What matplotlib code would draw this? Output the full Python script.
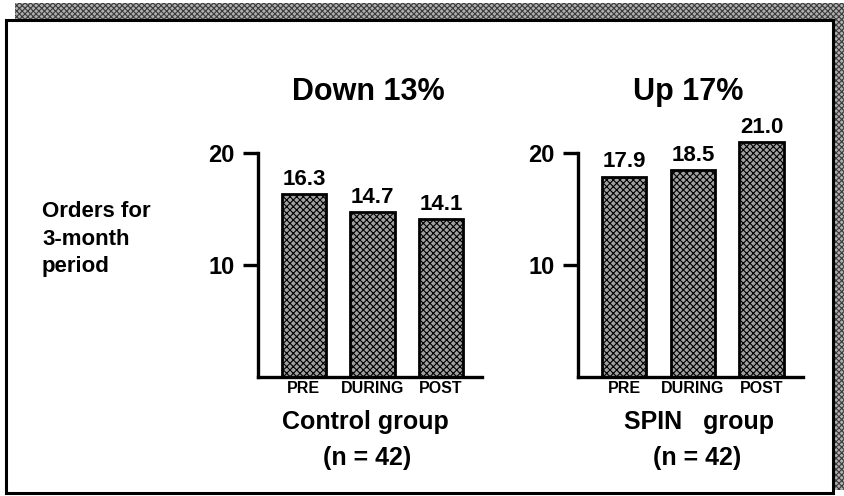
import matplotlib.pyplot as plt
from matplotlib.patches import Rectangle

plt.rcParams['font.family'] = ['Liberation Sans', 'DejaVu Sans']
plt.rcParams['font.weight'] = 'bold'
plt.rcParams['hatch.linewidth'] = 0.8

# ---------------- Data ---------------- #
periods = ["PRE", "DURING", "POST"]
control_orders = [16.3, 14.7, 14.1]
spin_orders = [17.9, 18.5, 21.0]
titles = ["Down 13%", "Up 17%"]
group_names = ["Control group", "SPIN   group"]
group_sizes = ["(n = 42)", "(n = 42)"]
y_ticks = [10, 20]

W, H = 844, 496
fig = plt.figure(figsize=(W / 100, H / 100), dpi=100)
fig.patch.set_facecolor("white")

def px(x, y):
    # pixel coords (origin top-left) -> figure fraction
    return x / W, 1 - y / H

# ---------------- Frame with stippled drop shadow ---------------- #
shade = dict(facecolor="#b0b0b0", edgecolor="#3a3a3a", hatch="xxxxxx",
             linewidth=0, transform=fig.transFigure, zorder=0)
fig.patches.append(Rectangle(px(15, 20), (W - 15) / W, 17 / H, **shade))
fig.patches.append(Rectangle(px(834, 490), 10 / W, 487 / H, **shade))
fig.patches.append(Rectangle(px(6, 493), 827 / W, 473 / H, facecolor="white",
                             edgecolor="black", linewidth=2.2,
                             transform=fig.transFigure, zorder=1))

# ---------------- Bar panels ---------------- #
def draw_panel(left_px, right_px, values, title, name, size, name_dx, size_dx):
    l, b = px(left_px, 377)
    ax = fig.add_axes([l, b, (right_px - left_px) / W, 224 / H], zorder=2)
    ax.patch.set_alpha(0)
    x = range(len(values))
    ax.bar(x, values, width=0.65, facecolor="#a0a0a0", edgecolor="black",
           hatch="xxxxx", linewidth=2.0, clip_on=False)
    for i, v in zip(x, values):
        ax.annotate(f"{v:.1f}", (i, v), xytext=(0, 3), textcoords="offset points",
                    ha="center", va="bottom", fontsize=16, fontweight="bold",
                    annotation_clip=False)
    ax.set_xlim(-0.67, 2.6)
    ax.set_ylim(0, 20)
    ax.set_yticks(y_ticks)
    ax.set_yticklabels([str(t) for t in y_ticks], fontsize=17, fontweight="bold")
    ax.set_xticks(list(x))
    ax.set_xticklabels(periods, fontsize=11.5, fontweight="bold")
    ax.tick_params(axis="y", length=11, width=2.4, pad=6)
    ax.tick_params(axis="x", length=0, pad=3)
    for s in ["top", "right"]:
        ax.spines[s].set_visible(False)
    for s in ["left", "bottom"]:
        ax.spines[s].set_linewidth(2.4)
    cx = (left_px + right_px) / 2
    fig.text(*px(cx - 2, 92), title, ha="center", va="center",
             fontsize=22, fontweight="bold", zorder=3)
    fig.text(*px(cx + name_dx, 422), name, ha="center", va="center",
             fontsize=18, fontweight="bold", zorder=3)
    fig.text(*px(cx + size_dx, 458), size, ha="center", va="center",
             fontsize=18, fontweight="bold", zorder=3)
    return ax

draw_panel(258, 482, control_orders, titles[0], group_names[0], group_sizes[0], -5, -3)
draw_panel(578, 803, spin_orders, titles[1], group_names[1], group_sizes[1], 8, 7)

# ---------------- Y label ---------------- #
fig.text(*px(42, 239), "Orders for\n3-month\nperiod", ha="left", va="center",
         fontsize=16, fontweight="bold", linespacing=1.4, zorder=3)

fig.savefig("out.png", dpi=100)
